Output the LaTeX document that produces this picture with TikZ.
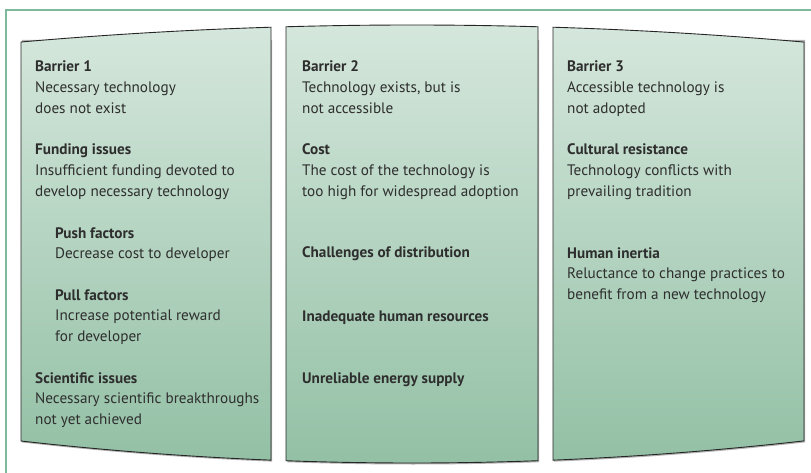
\documentclass[tikz,border=0pt]{standalone}
\usepackage{fontspec}
\setmainfont{PT Sans}
\definecolor{framegreen}{HTML}{7DB99B}
\definecolor{paneltop}{HTML}{D5E7DC}
\definecolor{panelbottom}{HTML}{93C0A5}
\definecolor{textgrey}{HTML}{2E2E2E}

\begin{document}
\begin{tikzpicture}[x=1pt,y=-1pt,
  declare function={ptop(\x)=25+17*((\x-412)/391)^2; pbot(\x)=463-22*((\x-412)/391)^2;},
  panel/.style={top color=paneltop,bottom color=panelbottom,draw=black!85,line width=0.9pt},
  entry/.style={anchor=base west,align=left,inner sep=0pt,text=textgrey,
    font=\fontsize{15.2}{20.75}\selectfont}]
\useasboundingbox (0,0) rectangle (811,473);
% outer frame
\draw [framegreen,line width=1.3pt] (6,480) -- (6,10) -- (820,10);
% the three panels
\foreach \l/\r in {21/271,286/538,553/804} {
  \fill [black!30] plot[domain=\l:\r,samples=25] (\x+1.2,{pbot(\x)+1.5}) -- (\r+1.2,40) -- (\l+1.2,40) -- cycle;
  \shade [panel] plot[domain=\l:\r,samples=25] (\x,{ptop(\x)})
    -- plot[domain=\r:\l,samples=25] (\x,{pbot(\x)}) -- cycle;
}
% barrier 1 (nodes sit on the baseline of their last line)
\node [entry] (barone) at (35,113.5) {\textbf{Barrier 1}\\Necessary technology\\does not exist};
\node [entry] (funding) at (35,196.5) {\textbf{Funding issues}\\Insufficient funding devoted to\\develop necessary technology};
\node [entry] (push) at (55,258.75) {\textbf{Push factors}\\Decrease cost to developer};
\node [entry] (pull) at (55,341.5) {\textbf{Pull factors}\\Increase potential reward\\for developer};
\node [entry] (science) at (35,424.5) {\textbf{Scientific issues}\\Necessary scientific breakthroughs\\not yet achieved};
% barrier 2
\node [entry] (bartwo) at (302,113.5) {\textbf{Barrier 2}\\Technology exists, but is\\not accessible};
\node [entry] (cost) at (302,196.5) {\textbf{Cost}\\The cost of the technology is\\too high for widespread adoption};
\node [entry] (distrib) at (302,258) {\textbf{Challenges of distribution}};
\node [entry] (staff) at (302,321) {\textbf{Inadequate human resources}};
\node [entry] (energy) at (302,383) {\textbf{Unreliable energy supply}};
% barrier 3
\node [entry] (barthree) at (567,113.5) {\textbf{Barrier 3}\\Accessible technology is\\not adopted};
\node [entry] (culture) at (567,196.5) {\textbf{Cultural resistance}\\Technology conflicts with\\prevailing tradition};
\node [entry] (inertia) at (567,299.5) {\textbf{Human inertia}\\Reluctance to change practices to\\benefit from a new technology};
\end{tikzpicture}
\end{document}
